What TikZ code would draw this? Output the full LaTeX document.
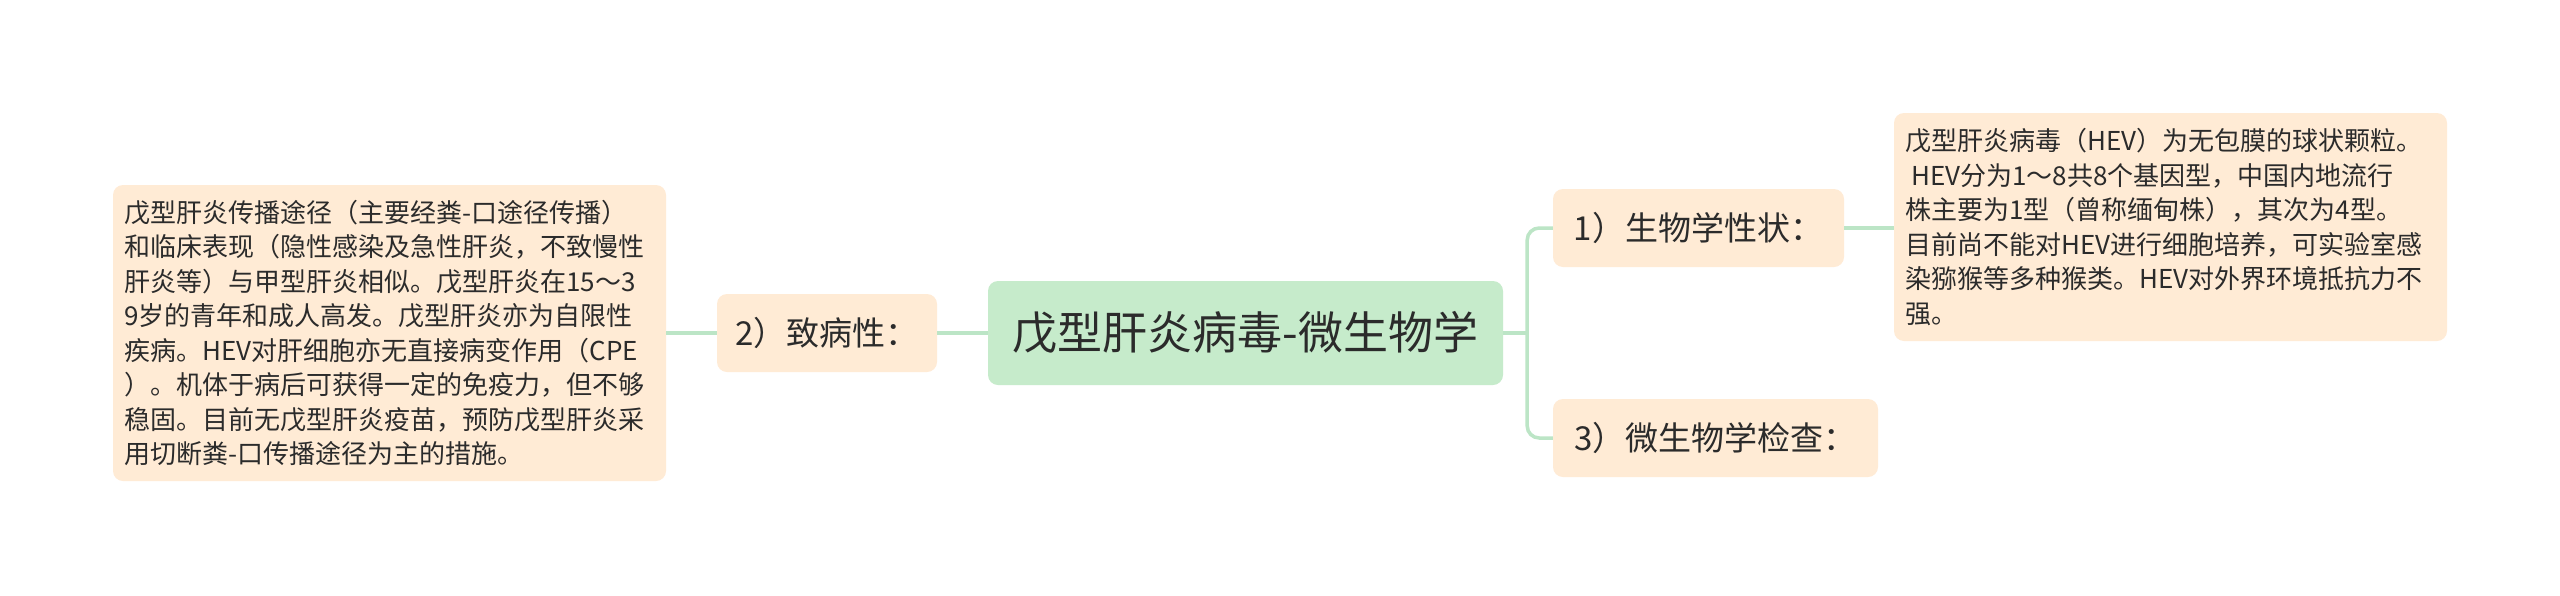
\documentclass[tikz,border=0pt]{standalone}
\usepackage{fontspec}
\usetikzlibrary{calc}
\setmainfont{Noto Sans CJK SC}
\definecolor{peach}{HTML}{FFEBD5}
\definecolor{mint}{HTML}{C6EBCB}
\definecolor{linkc}{HTML}{BCE5C6}
\definecolor{ink}{HTML}{2B2B2B}
\begin{document}
\begin{tikzpicture}[x=1pt,y=-1pt,
  box/.style={rounded corners=10pt, inner sep=0pt, text=ink, align=center},
  sub/.style={box, fill=peach, minimum height=78pt, font=\fontsize{33}{38}\selectfont},
  leaf/.style={box, fill=peach, inner xsep=11.5pt, inner ysep=0pt, text width=530pt, align=left, font=\fontsize{26}{34.5}\selectfont},
  root/.style={box, fill=mint, font=\fontsize{45}{54}\selectfont},
  conn/.style={draw=linkc, line width=3.5pt}]
\fill[white] (0,0) rectangle (2560,595);
\useasboundingbox (0,0) rectangle (2560,595);

\node[root, minimum width=515pt, minimum height=104pt] (c) at (1245.5,333) {戊型肝炎病毒-微生物学};

\node[sub, minimum width=220pt] (b2) at (827,333) {2）致病性：};
\node[sub, minimum width=291pt] (b1) at (1698.5,228) {1）生物学性状：};
\node[sub, minimum width=325pt] (b3) at (1715.5,438) {3）微生物学检查：};

\node[leaf, minimum height=296pt] (d2) at (389.5,333) {戊型肝炎传播途径（主要经粪-口途径传播）\\
和临床表现（隐性感染及急性肝炎，不致慢性\\
肝炎等）与甲型肝炎相似。戊型肝炎在15～3\\
9岁的青年和成人高发。戊型肝炎亦为自限性\\
疾病。HEV对肝细胞亦无直接病变作用（CPE\\
）。机体于病后可获得一定的免疫力，但不够\\
稳固。目前无戊型肝炎疫苗，预防戊型肝炎采\\
用切断粪-口传播途径为主的措施。};

\node[leaf, minimum height=228pt] (d1) at (2170.5,227) {戊型肝炎病毒（HEV）为无包膜的球状颗粒。\\
\hspace*{0.22em}HEV分为1～8共8个基因型，中国内地流行\\
株主要为1型（曾称缅甸株），其次为4型。\\
目前尚不能对HEV进行细胞培养，可实验室感\\
染猕猴等多种猴类。HEV对外界环境抵抗力不\\
强。};

\coordinate (fork) at ($(c.east)+(24,0)$);
\draw[conn] (c.east) -- (fork);
\draw[conn, rounded corners=12pt] (fork) |- (b1.west);
\draw[conn, rounded corners=12pt] (fork) |- (b3.west);
\draw[conn] (c.west) -- (b2.east);
\draw[conn] (b2.west) -- (d2.east);
\draw[conn] (b1.east) -- (b1.east -| d1.west);
\end{tikzpicture}
\end{document}
